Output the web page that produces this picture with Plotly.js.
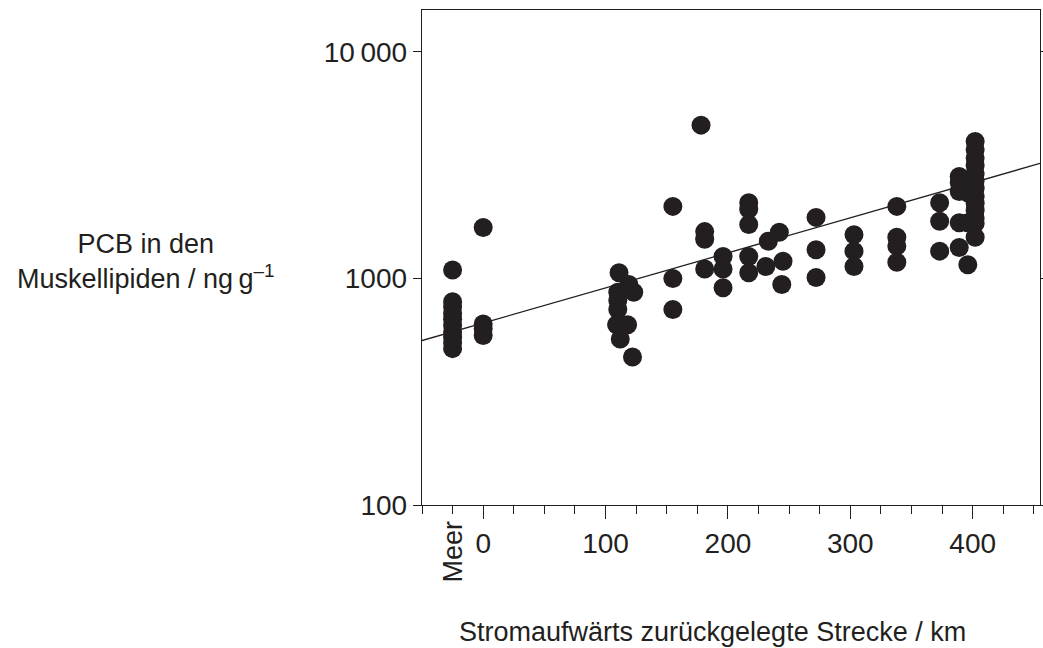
<!DOCTYPE html>
<html>
<head>
<meta charset="utf-8">
<script src="https://cdn.plot.ly/plotly-3.0.1.min.js"></script>
<style>body{margin:0;background:#fff}#plot{width:1043px;height:648px}</style>
</head>
<body>
<div id="plot"></div>
<script>
// distance upstream (km), -25 stands for "Meer" (sea)
const distKm = [
  -25, -25, -25, -25, -25, -25, -25, -25, -25, -25,
  0, 0, 0, 0,
  111, 119, 123, 110, 110, 110, 118, 109, 112, 122,
  155, 155, 155,
  181, 181, 181, 178,
  196, 196, 196,
  217, 217, 217, 217, 217,
  233, 242, 231, 245, 244,
  272, 272, 272,
  303, 303, 303,
  338, 338, 338, 338,
  373, 373, 373,
  389, 389, 389, 389, 389,
  396, 396, 396,
  402, 402, 402, 402, 402, 402, 402, 402, 402, 402, 402, 402, 402
];
// PCB in muscle lipids (ng/g)
const pcb = [
  1090, 790, 750, 700, 660, 620, 580, 550, 520, 490,
  1680, 630, 600, 560,
  1060, 940, 870, 870, 730, 800, 625, 625, 540, 450,
  2080, 1000, 730,
  1610, 1490, 1100, 4750,
  1250, 1100, 910,
  2160, 2020, 1730, 1250, 1060,
  1460, 1600, 1130, 1190, 940,
  1860, 1340, 1010,
  1560, 1320, 1130,
  2080, 1520, 1390, 1180,
  2160, 1790, 1320,
  2820, 2650, 2420, 1760, 1370,
  2390, 1760, 1150,
  4020, 3700, 3400, 3150, 2900, 2700, 2500, 2300, 2150, 2000, 1850, 1750, 1520
];
// regression line end points
const fitX = [-50, 455];
const fitY = [532, 3220];

const xTickVals = [0, 100, 200, 300, 400];
const xTickText = ['0', '100', '200', '300', '400'];
const yTickVals = [100, 1000, 10000];
const yTickText = ['100', '1000', '10\u2009000'];

const font = {family: 'Liberation Sans, Arial, sans-serif', color: '#231f20'};

const data = [
  {x: fitX, y: fitY, type: 'scatter', mode: 'lines',
   line: {color: '#231f20', width: 1.3}, hoverinfo: 'skip'},
  {x: distKm, y: pcb, type: 'scatter', mode: 'markers',
   marker: {color: '#231f20', size: 19}}
];

const layout = {
  width: 1043, height: 648,
  margin: {l: 422, r: 3, t: 10, b: 143},
  showlegend: false,
  paper_bgcolor: '#fff', plot_bgcolor: '#fff',
  font: Object.assign({size: 28}, font),
  xaxis: {
    range: [-50, 455], tickvals: xTickVals, ticktext: xTickText,
    ticks: 'outside', ticklen: 13, tickwidth: 1, tickcolor: '#231f20',
    minor: {dtick: 25, tick0: 0, ticks: 'outside', ticklen: 8, tickcolor: '#231f20'},
    showline: true, linecolor: '#231f20', linewidth: 1.3, mirror: true,
    showgrid: false, zeroline: false, tickfont: {size: 28}
  },
  yaxis: {
    type: 'log', range: [2, 4.185], tickvals: yTickVals, ticktext: yTickText,
    ticks: 'outside', ticklen: 8, tickwidth: 1, tickcolor: '#231f20',
    showline: true, linecolor: '#231f20', linewidth: 1.3, mirror: 'ticks',
    showgrid: false, zeroline: false, tickfont: {size: 28}
  },
  annotations: [
    {text: 'Meer', x: -25, y: 0, xref: 'x', yref: 'paper', yanchor: 'top',
     yshift: -14, textangle: -90, showarrow: false, font: {size: 27}},
    {text: 'PCB in den<br>Muskellipiden / ng\u2009g<sup>\u20131</sup>', x: 146, y: 261,
     xref: 'paper', yref: 'paper', xanchor: 'center', yanchor: 'middle',
     showarrow: false, font: {size: 27}},
    {text: 'Stromaufwärts zurückgelegte Strecke / km', x: 712, y: 632,
     xref: 'paper', yref: 'paper', xanchor: 'center', yanchor: 'middle',
     showarrow: false, font: {size: 27}}
  ]
};
// convert pixel positions of the free annotations to paper coords
[1, 2].forEach(function (i) {
  const a = layout.annotations[i];
  a.x = (a.x - 422) / (1043 - 422 - 3);
  a.y = (648 - 143 - a.y) / (648 - 143 - 10);
});

Plotly.newPlot('plot', data, layout, {staticPlot: true});
</script>
</body>
</html>
